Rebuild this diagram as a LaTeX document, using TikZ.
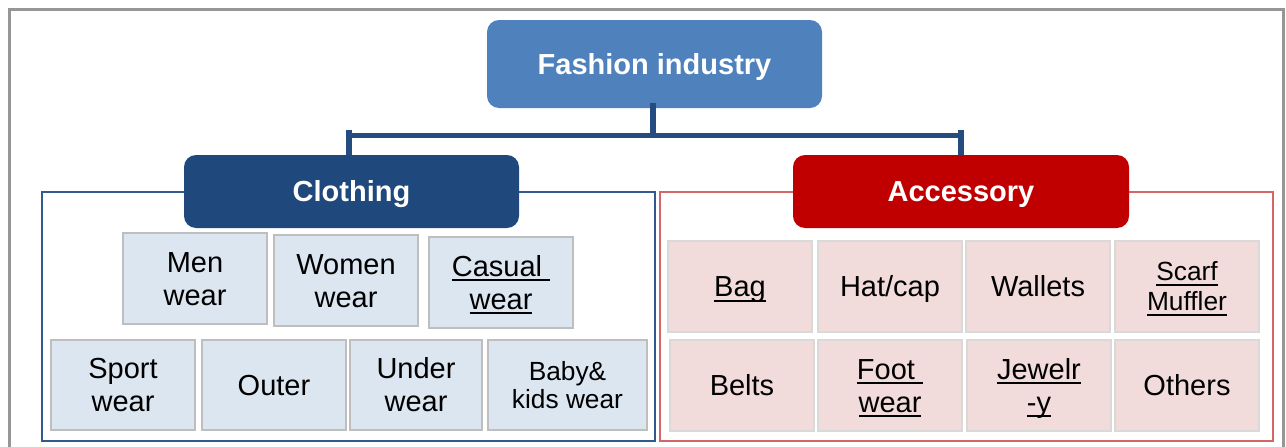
\documentclass[tikz,border=0pt]{standalone}
\usepackage{fontspec}
\setmainfont{Liberation Sans}
\definecolor{fashblue}{RGB}{79,129,189}
\definecolor{darkblue}{RGB}{31,73,125}
\definecolor{connblue}{RGB}{36,76,128}
\definecolor{clframe}{RGB}{50,90,145}
\definecolor{accred}{RGB}{192,0,0}
\definecolor{acframe}{RGB}{212,102,102}
\definecolor{clfill}{RGB}{220,230,241}
\definecolor{clborder}{RGB}{190,190,190}
\definecolor{acfill}{RGB}{242,220,219}
\definecolor{acborder}{RGB}{217,217,217}
\definecolor{framegray}{RGB}{150,150,150}
\newsavebox\ulbox
\newcommand\myul[1]{\sbox\ulbox{#1}\rlap{\vrule height -3pt depth 5.2pt width \wd\ulbox}\usebox\ulbox}
% struts giving every text line the ascent and descent of the font
\newcommand\sta{\rule{0pt}{0.905em}}
\newcommand\std{\rule[-0.212em]{0pt}{0.212em}}
\newcommand\stb{\rule[-0.212em]{0pt}{1.117em}}
\tikzset{
  head/.style={rounded corners=12pt, inner sep=0pt, text=white,
    font=\fontsize{29}{33}\selectfont\bfseries},
  item/.style={inner sep=0pt, line width=2pt, align=center,
    font=\fontsize{29}{33}\selectfont},
  small/.style={font=\fontsize{26.3}{29}\selectfont},
  clitem/.style={item, fill=clfill, draw=clborder},
  acitem/.style={item, fill=acfill, draw=acborder},
  conn/.style={draw=connblue, line width=5.5pt},
}
\begin{document}
\begin{tikzpicture}[x=1pt,y=-1pt]
\useasboundingbox (0,0) rectangle (1286,447);
\fill[white] (0,0) rectangle (1286,447);
% outer frame
\draw[framegray, line width=2.5pt] (9.5,460) -- (9.5,9.5) -- (1283.5,9.5) -- (1283.5,460);
% group frames
\draw[clframe, line width=1.6pt] (42,192) rectangle (655,441);
\draw[acframe, line width=1.6pt] (660,192) rectangle (1273,441);
% headers
\node[head, fill=fashblue, minimum width=335pt, minimum height=88pt] (fashion) at (654.5,64) {\stb Fashion industry};
\node[head, fill=darkblue, minimum width=335pt, minimum height=73pt] (clothing) at (351.5,191.5) {\stb Clothing};
\node[head, fill=accred, minimum width=336pt, minimum height=73pt] (accessory) at (961,191.5) {\stb Accessory};
% connectors
\coordinate (stem) at (653,135.5);
\coordinate (ctick) at (349,129.7);
\coordinate (atick) at (961,129.7);
\draw[conn] (fashion.south -| stem) ++(0,-5) -- (stem);
\draw[conn, line width=6pt] (ctick) -- (ctick |- clothing.north);
\draw[conn, line width=6pt] (atick) -- (atick |- accessory.north);
\draw[conn] ([xshift=-3pt]ctick |- stem) -- ([xshift=3pt]atick |- stem);
% clothing items
\node[clitem, minimum width=144pt, minimum height=91pt] (men) at (195,278.5) {\sta Men\\wear\std};
\node[clitem, minimum width=144pt, minimum height=91pt] (women) at (346,280.5) {\sta Women\\wear\std};
\node[clitem, minimum width=144pt, minimum height=91pt] (casual) at (501,282.5) {\sta\myul{Casual\ }\\\myul{wear}\std};
\node[clitem, minimum width=144pt, minimum height=90pt] (sport) at (123,385) {\sta Sport\\wear\std};
\node[clitem, minimum width=144pt, minimum height=90pt] (outer) at (274,385) {\stb Outer};
\node[clitem, minimum width=132pt, minimum height=90pt] (under) at (416,385) {\sta Under\\wear\std};
\node[clitem, small, minimum width=159pt, minimum height=90pt] (baby) at (567.5,385) {\sta Baby\&\\[-1pt]kids wear\std};
% accessory items
\node[acitem, minimum width=144pt, minimum height=91pt] (bag) at (740,286.5) {\stb\myul{Bag}};
\node[acitem, minimum width=144pt, minimum height=91pt] (hat) at (890,286.5) {\stb Hat/cap};
\node[acitem, minimum width=144pt, minimum height=91pt] (wallets) at (1038,286.5) {\stb Wallets};
\node[acitem, small, minimum width=144pt, minimum height=91pt] (scarf) at (1187,286.5) {\sta\myul{Scarf}\\[1pt]\myul{Muffler}\std};
\node[acitem, minimum width=144pt, minimum height=91pt] (belts) at (742,385.5) {\stb Belts};
\node[acitem, minimum width=144pt, minimum height=91pt] (foot) at (890,385.5) {\sta\myul{Foot\ }\\\myul{wear}\std};
\node[acitem, minimum width=144pt, minimum height=91pt] (jewel) at (1039,385.5) {\sta\myul{Jewelr}\\\myul{-y}\std};
\node[acitem, minimum width=144pt, minimum height=91pt] (others) at (1187,385.5) {\stb Others};
\end{tikzpicture}
\end{document}
